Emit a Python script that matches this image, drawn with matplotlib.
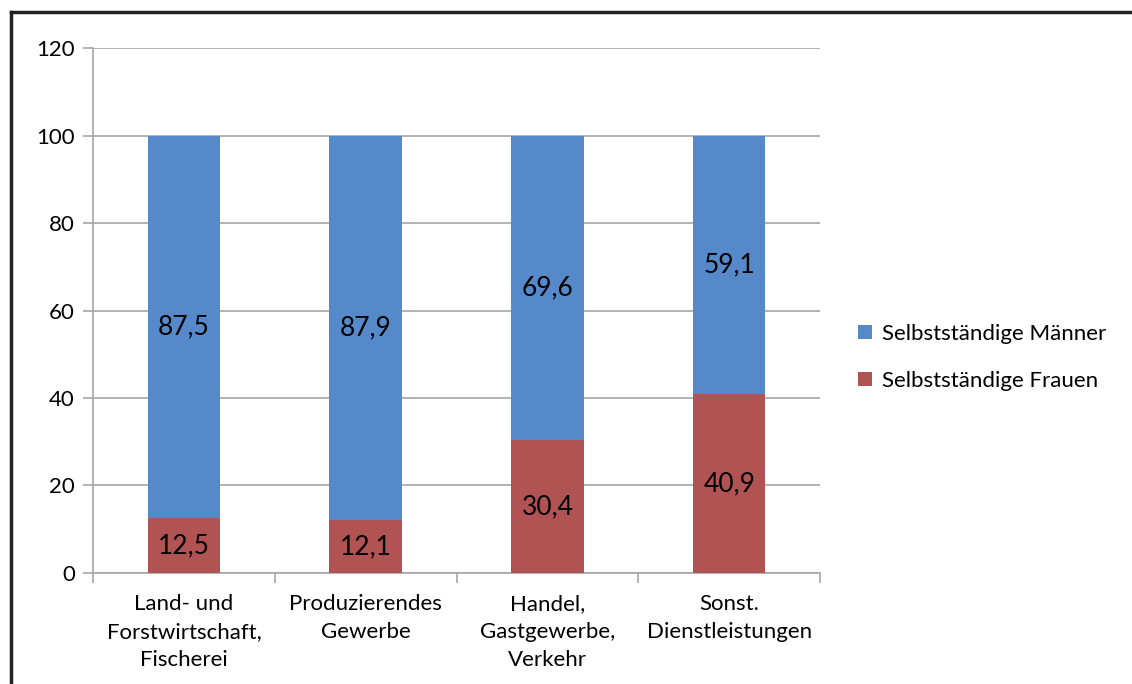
import matplotlib.pyplot as plt
import matplotlib.lines as mlines
import numpy as np

# Data
categories = ['Land- und\nForstwirtschaft,\nFischerei', 'Produzierendes\nGewerbe',
              'Handel,\nGastgewerbe,\nVerkehr', 'Sonst.\nDienstleistungen']
frauen = [12.5, 12.1, 30.4, 40.9]
maenner = [87.5, 87.9, 69.6, 59.1]
frauen_labels = ['12,5', '12,1', '30,4', '40,9']
maenner_labels = ['87,5', '87,9', '69,6', '59,1']

plt.rcParams['font.family'] = ['Lato', 'DejaVu Sans']

blue = '#5589C9'
red = '#B05352'
grid_col = '#A6A6A6'

fig = plt.figure(figsize=(11.32, 6.84), dpi=100)
ax = fig.add_axes([0.0822, 0.1623, 0.6422, 0.7675])

x = np.arange(len(categories))
b1 = ax.bar(x, frauen, width=0.4, color=red, label='Selbstständige Frauen', zorder=3)
b2 = ax.bar(x, maenner, width=0.4, bottom=frauen, color=blue, label='Selbstständige Männer', zorder=3)

# value labels
for i in range(len(categories)):
    ax.text(x[i], frauen[i] / 2, frauen_labels[i], ha='center', va='center', fontsize=19, zorder=4)
    ax.text(x[i], frauen[i] + maenner[i] / 2, maenner_labels[i], ha='center', va='center', fontsize=19, zorder=4)

ax.set_xlim(-0.5, len(categories) - 0.5)
ax.set_ylim(0, 120)
ax.set_yticks(range(0, 121, 20))
ax.yaxis.grid(True, color=grid_col, linewidth=1.2, zorder=0)

ax.set_xticks(x)
ax.set_xticklabels(categories, fontsize=16, linespacing=1.5)
ax.set_xticks(np.arange(-0.5, len(categories), 1), minor=True)
ax.tick_params(axis='x', which='major', length=0, pad=15)
ax.tick_params(axis='x', which='minor', length=7, color=grid_col, width=1.2)
ax.tick_params(axis='y', length=7, color=grid_col, width=1.2, labelsize=16, pad=6)

for s in ['top', 'right']:
    ax.spines[s].set_visible(False)
for s in ['left', 'bottom']:
    ax.spines[s].set_color(grid_col)
    ax.spines[s].set_linewidth(1.2)

handles = [b2, b1]
ax.legend(handles, [h.get_label() for h in handles], loc='center left',
          bbox_to_anchor=(1.025, 0.411), frameon=False, fontsize=16,
          handlelength=0.6, handleheight=0.6, handletextpad=0.45, labelspacing=1.2)

# outer frame (left and top edges visible)
fig.add_artist(mlines.Line2D([0.0097, 0.0097], [0, 0.9825], color='#222222', linewidth=2.5, transform=fig.transFigure))
fig.add_artist(mlines.Line2D([0.0097, 1.0], [0.9825, 0.9825], color='#222222', linewidth=2.5, transform=fig.transFigure))

fig.savefig('out.png', dpi=100)
